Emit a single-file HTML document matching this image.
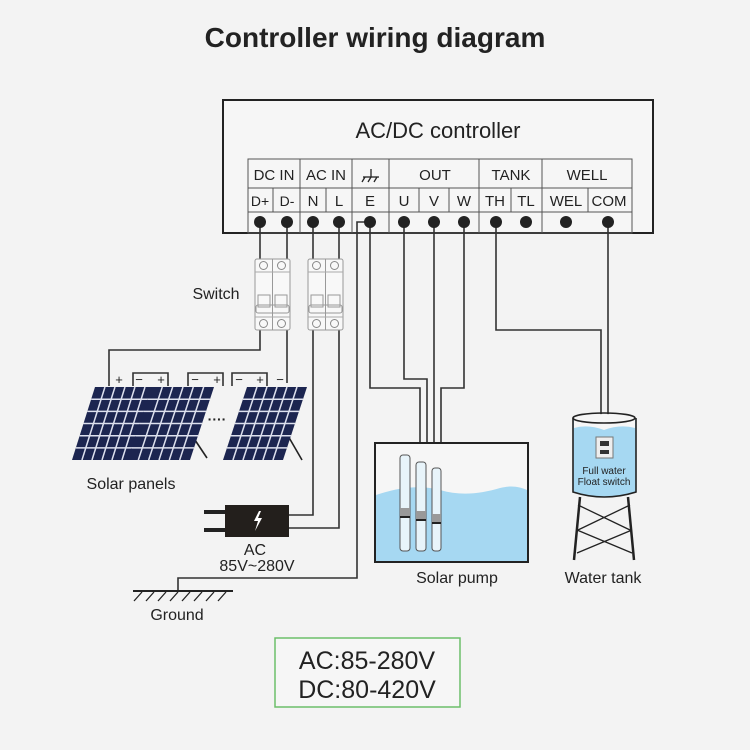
<!DOCTYPE html>
<html><head><meta charset="utf-8"><style>
html,body{margin:0;padding:0;background:#f3f3f3;}
svg{display:block;}
text{font-family:"Liberation Sans",sans-serif;fill:#222;}
</style></head><body>
<svg width="750" height="750" viewBox="0 0 750 750" xmlns="http://www.w3.org/2000/svg">
<defs>
<g id="grid">
<rect x="0" y="0" width="1" height="1" fill="#1c2550"/>
<g stroke="#dde0ee" stroke-width="1.5" fill="none">
<line x1="0.166" y1="0" x2="0.166" y2="1" vector-effect="non-scaling-stroke"/>
<line x1="0.333" y1="0" x2="0.333" y2="1" vector-effect="non-scaling-stroke"/>
<line x1="0.5" y1="0" x2="0.5" y2="1" vector-effect="non-scaling-stroke"/>
<line x1="0.666" y1="0" x2="0.666" y2="1" vector-effect="non-scaling-stroke"/>
<line x1="0.833" y1="0" x2="0.833" y2="1" vector-effect="non-scaling-stroke"/>
<line x1="0" y1="0.166" x2="1" y2="0.166" vector-effect="non-scaling-stroke"/>
<line x1="0" y1="0.333" x2="1" y2="0.333" vector-effect="non-scaling-stroke"/>
<line x1="0" y1="0.5" x2="1" y2="0.5" vector-effect="non-scaling-stroke"/>
<line x1="0" y1="0.666" x2="1" y2="0.666" vector-effect="non-scaling-stroke"/>
<line x1="0" y1="0.833" x2="1" y2="0.833" vector-effect="non-scaling-stroke"/>
</g>
</g>
<g id="brk">
<rect x="0" y="0" width="35" height="71" rx="2" fill="#f8f8f8" stroke="#999" stroke-width="1"/>
<line x1="17.5" y1="0" x2="17.5" y2="71" stroke="#999"/>
<line x1="0" y1="13" x2="35" y2="13" stroke="#aaa"/>
<line x1="0" y1="58" x2="35" y2="58" stroke="#aaa"/>
<circle cx="8.5" cy="6.5" r="4" fill="none" stroke="#888"/><circle cx="26.5" cy="6.5" r="4" fill="none" stroke="#888"/>
<circle cx="8.5" cy="64.5" r="4" fill="none" stroke="#888"/><circle cx="26.5" cy="64.5" r="4" fill="none" stroke="#888"/>
<rect x="3" y="36" width="12" height="12" fill="none" stroke="#999"/><rect x="20" y="36" width="12" height="12" fill="none" stroke="#999"/>
<rect x="1" y="46" width="33" height="8" rx="2" fill="none" stroke="#999"/>
</g>
</defs>

<text x="375" y="47" font-size="28" font-weight="bold" text-anchor="middle" fill="#111">Controller wiring diagram</text>

<rect x="223" y="100" width="430" height="133" fill="#f6f6f6" stroke="#222" stroke-width="2"/>
<text x="438" y="138" font-size="22" text-anchor="middle">AC/DC controller</text>
<g stroke="#555" stroke-width="1" fill="none">
<rect x="248" y="159" width="384" height="74"/>
<line x1="248" y1="188" x2="632" y2="188"/>
<line x1="248" y1="212" x2="632" y2="212"/>
<line x1="300" y1="159" x2="300" y2="233"/>
<line x1="352" y1="159" x2="352" y2="233"/>
<line x1="389" y1="159" x2="389" y2="233"/>
<line x1="479" y1="159" x2="479" y2="233"/>
<line x1="542" y1="159" x2="542" y2="233"/>
<line x1="273" y1="188" x2="273" y2="212"/>
<line x1="326" y1="188" x2="326" y2="212"/>
<line x1="419" y1="188" x2="419" y2="212"/>
<line x1="449" y1="188" x2="449" y2="212"/>
<line x1="511" y1="188" x2="511" y2="212"/>
<line x1="588" y1="188" x2="588" y2="212"/>
</g>
<g font-size="15">
<text x="274" y="180" text-anchor="middle">DC IN</text>
<text x="326" y="180" text-anchor="middle">AC IN</text>
<text x="435" y="180" text-anchor="middle">OUT</text>
<text x="511" y="180" text-anchor="middle">TANK</text>
<text x="587" y="180" text-anchor="middle">WELL</text>
<text x="260" y="206" text-anchor="middle" font-size="14">D+</text>
<text x="287" y="206" text-anchor="middle" font-size="14">D-</text>
<text x="313" y="206" text-anchor="middle">N</text>
<text x="339" y="206" text-anchor="middle">L</text>
<text x="370" y="206" text-anchor="middle">E</text>
<text x="404" y="206" text-anchor="middle">U</text>
<text x="434" y="206" text-anchor="middle">V</text>
<text x="464" y="206" text-anchor="middle">W</text>
<text x="495" y="206" text-anchor="middle">TH</text>
<text x="526" y="206" text-anchor="middle">TL</text>
<text x="566" y="206" text-anchor="middle">WEL</text>
<text x="609" y="206" text-anchor="middle">COM</text>
</g>
<g stroke="#222" stroke-width="1.3" fill="none"><line x1="371" y1="169" x2="371" y2="177"/><line x1="363" y1="177" x2="379" y2="177"/><line x1="365" y1="177" x2="362" y2="182"/><line x1="371" y1="177" x2="368" y2="182"/><line x1="377" y1="177" x2="374" y2="182"/></g>

<g stroke="#333" stroke-width="1.6" fill="none">
<polyline points="260,222 260,259"/><polyline points="287,222 287,259"/>
<polyline points="313,222 313,259"/><polyline points="339,222 339,259"/>
<polyline points="260,330 260,350 109,350 109,386"/>
<polyline points="287,330 287,383"/>
<polyline points="313,330 313,515 289,515"/>
<polyline points="339,330 339,528 289,528"/>
<polyline points="370,222 357,222 357,578 178,578 178,591"/>
<polyline points="370,222 370,388 420,388 420,443"/>
<polyline points="404,222 404,379 427,379 427,443"/>
<polyline points="434,222 434,443"/>
<polyline points="464,222 464,388 441,388 441,443"/>
<polyline points="496,222 496,330 601,330 601,440"/>
<polyline points="608,222 608,440"/>
<polyline points="133,386 133,373 168,373 168,386"/>
<polyline points="188,386 188,373 223,373 223,386"/>
<polyline points="232,386 232,373 267,373 267,386"/>
</g>
<g fill="#222">
<circle cx="260" cy="222" r="6"/><circle cx="287" cy="222" r="6"/><circle cx="313" cy="222" r="6"/><circle cx="339" cy="222" r="6"/><circle cx="370" cy="222" r="6"/><circle cx="404" cy="222" r="6"/><circle cx="434" cy="222" r="6"/><circle cx="464" cy="222" r="6"/><circle cx="496" cy="222" r="6"/><circle cx="526" cy="222" r="6"/><circle cx="566" cy="222" r="6"/><circle cx="608" cy="222" r="6"/>
</g>

<use href="#brk" x="255" y="259"/>
<use href="#brk" x="308" y="259"/>
<text x="216" y="299" font-size="16" text-anchor="middle">Switch</text>

<g font-size="13">
<text x="119" y="384" text-anchor="middle">+</text>
<text x="139" y="384" text-anchor="middle">−</text><text x="161" y="384" text-anchor="middle">+</text>
<text x="195" y="384" text-anchor="middle">−</text><text x="217" y="384" text-anchor="middle">+</text>
<text x="239" y="384" text-anchor="middle">−</text><text x="260" y="384" text-anchor="middle">+</text>
<text x="280" y="384" text-anchor="middle">−</text>
</g>
<g stroke="#222" stroke-width="1.6"><line x1="185" y1="425" x2="207" y2="458"/><line x1="280" y1="422" x2="302" y2="460"/><line x1="128" y1="440" x2="135" y2="450"/></g>
<use href="#grid" transform="matrix(60,0,23,-73,72,460)"/>
<use href="#grid" transform="matrix(62,0,24,-73,128,460)"/>
<use href="#grid" transform="matrix(60,0,24,-73,223,460)"/>
<text x="217" y="424" font-size="14" text-anchor="middle" font-weight="bold">····</text>
<text x="131" y="489" font-size="16" text-anchor="middle">Solar panels</text>

<rect x="204" y="510" width="22" height="4" fill="#222"/><rect x="204" y="528" width="22" height="4" fill="#222"/>
<rect x="225" y="505" width="64" height="32" fill="#231f1c"/>
<polygon points="259,511 254,521 258,521 255,531 262,518 258,518 261,511" fill="#fff"/>
<text x="255" y="555" font-size="16" text-anchor="middle">AC</text>
<text x="257" y="571" font-size="16" text-anchor="middle">85V~280V</text>

<line x1="133" y1="591" x2="233" y2="591" stroke="#222" stroke-width="2"/>
<g stroke="#222" stroke-width="1.3">
<line x1="142" y1="592" x2="134" y2="601"/><line x1="154" y1="592" x2="146" y2="601"/><line x1="166" y1="592" x2="158" y2="601"/><line x1="178" y1="592" x2="170" y2="601"/><line x1="190" y1="592" x2="182" y2="601"/><line x1="202" y1="592" x2="194" y2="601"/><line x1="214" y1="592" x2="206" y2="601"/><line x1="226" y1="592" x2="218" y2="601"/>
</g>
<text x="177" y="620" font-size="16" text-anchor="middle">Ground</text>

<rect x="375" y="443" width="153" height="119" fill="#f6f6f6" stroke="#222" stroke-width="2"/>
<path d="M376,495 C400,487 420,485 440,490 C460,496 480,494 500,488 C512,485 520,487 527,490 L527,561 L376,561 Z" fill="#a6d8f2"/>
<g stroke="#555" stroke-width="1" fill="#e8f4fa">
<rect x="400" y="455" width="10" height="96" rx="3"/>
<rect x="416" y="462" width="10" height="89" rx="3"/>
<rect x="432" y="468" width="9" height="83" rx="3"/>
</g>
<g fill="#999"><rect x="400" y="508" width="10" height="8"/><rect x="416" y="511" width="10" height="8"/><rect x="432" y="514" width="9" height="8"/></g>
<g fill="#222"><rect x="400" y="516" width="10" height="2"/><rect x="416" y="519" width="10" height="2"/><rect x="432" y="522" width="9" height="2"/></g>
<text x="457" y="583" font-size="16" text-anchor="middle">Solar pump</text>

<g stroke="#222" stroke-width="2.5"><line x1="580" y1="497" x2="574" y2="560"/><line x1="628" y1="497" x2="634" y2="560"/></g>
<g stroke="#222" stroke-width="1.3"><line x1="578" y1="505" x2="630" y2="530"/><line x1="630" y1="505" x2="578" y2="530"/><line x1="577" y1="530" x2="632" y2="553"/><line x1="632" y1="530" x2="577" y2="553"/></g>
<path d="M573,418 L573,492 Q604,502 636,492 L636,418" fill="#a6d8f2" stroke="#222" stroke-width="1.6"/>
<path d="M574,418 Q604,410 635,418 L635,428 Q620,424 604,430 Q588,424 574,428 Z" fill="#f6f6f6"/>
<ellipse cx="604" cy="418" rx="31" ry="5" fill="none" stroke="#222" stroke-width="1.6"/>
<rect x="596" y="437" width="17" height="21" fill="#eee" stroke="#777"/>
<rect x="600" y="441" width="9" height="5" fill="#333"/><rect x="600" y="450" width="9" height="4" fill="#333"/>
<text x="604" y="474" font-size="10" text-anchor="middle">Full water</text>
<text x="604" y="485" font-size="10" text-anchor="middle">Float switch</text>
<text x="603" y="583" font-size="16" text-anchor="middle">Water tank</text>

<rect x="275" y="638" width="185" height="69" fill="#f6f6f6" stroke="#6cbf6a" stroke-width="1.5"/>
<text x="367" y="669" font-size="25" text-anchor="middle">AC:85-280V</text>
<text x="367" y="698" font-size="25" text-anchor="middle">DC:80-420V</text>
</svg>
</body></html>
